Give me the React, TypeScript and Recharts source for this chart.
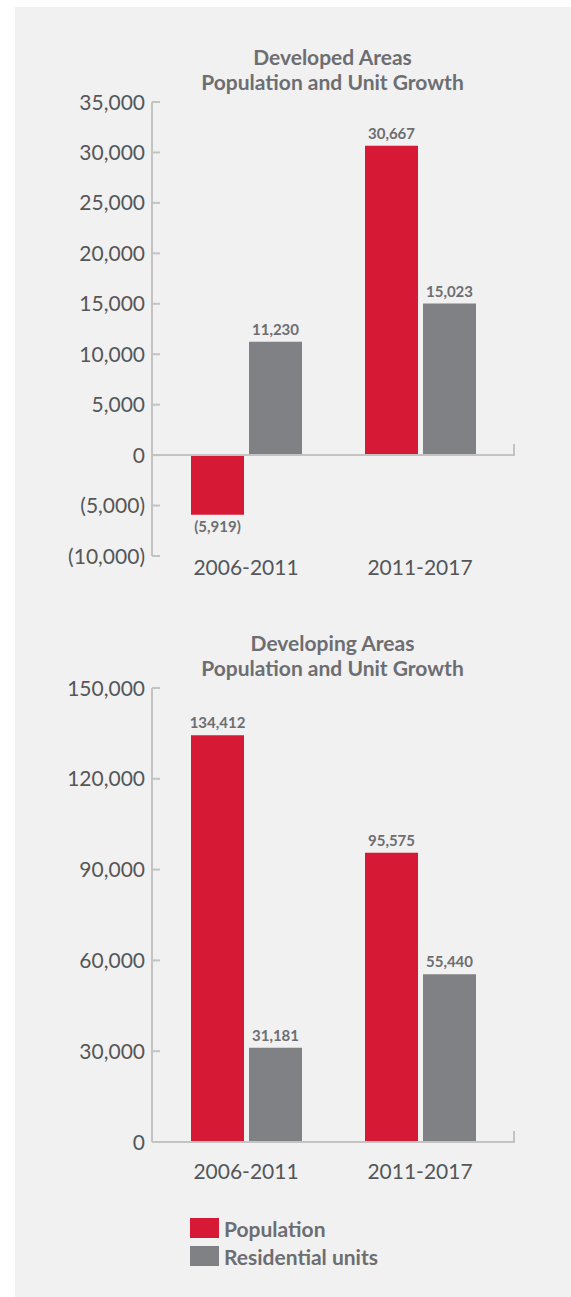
import React from "react";
import {
  BarChart,
  Bar,
  XAxis,
  YAxis,
  LabelList,
  Legend,
  ReferenceLine,
} from "recharts";

const periods = ["2006-2011", "2011-2017"];

const developedPopulation = [-5919, 30667];
const developedUnits = [11230, 15023];
const developedTicks = [-10000, -5000, 0, 5000, 10000, 15000, 20000, 25000, 30000, 35000];

const developingPopulation = [134412, 95575];
const developingUnits = [31181, 55440];
const developingTicks = [0, 30000, 60000, 90000, 120000, 150000];

const RED = "#d61a35";
const GRAY = "#808184";
const AXIS = "#c3c3c3";
const LABEL = "#6d6e71";
const TICK_TEXT = "#555658";
const FONT = "Lato, 'Open Sans', sans-serif";

function fmt(v: number) {
  const s = Math.abs(v).toLocaleString("en-US");
  return v < 0 ? `(${s})` : s;
}

function YTick(props: any) {
  const { x, y, payload } = props;
  return (
    <g>
      <line x1={x} y1={y} x2={x + 8} y2={y} stroke={AXIS} strokeWidth={2} />
      <text
        x={x - 7}
        y={y}
        dy="0.36em"
        textAnchor="end"
        fill={TICK_TEXT}
        fontSize={21}
        fontWeight={400}
        fontFamily={FONT}
      >
        {fmt(payload.value)}
      </text>
    </g>
  );
}

// zero line with the little upturned tick at the right end
function ZeroLine(props: any) {
  const left = Math.min(props.x1, props.x2);
  const right = Math.max(props.x1, props.x2);
  const y = props.y1;
  return (
    <path
      d={`M${left},${y}H${right}V${y - 11}`}
      fill="none"
      stroke={AXIS}
      strokeWidth={2}
    />
  );
}

function LegendList(props: any) {
  const items = props.payload || [];
  return (
    <div style={{ fontFamily: FONT }}>
      {items.map((item: any) => (
        <div
          key={item.value}
          style={{ display: "flex", alignItems: "center", height: 20, marginBottom: 8 }}
        >
          <span
            style={{ width: 29, height: 20, background: item.color, marginRight: 5 }}
          />
          <span style={{ fontSize: 21, fontWeight: 700, color: LABEL }}>
            {item.value}
          </span>
        </div>
      ))}
    </div>
  );
}

function Title({ top, lines }: { top: number; lines: string[] }) {
  return (
    <div
      style={{
        position: "absolute",
        left: 100,
        width: 465,
        top,
        textAlign: "center",
        fontFamily: FONT,
        fontWeight: 700,
        fontSize: 21,
        lineHeight: "25px",
        color: LABEL,
      }}
    >
      {lines.map((l) => (
        <div key={l}>{l}</div>
      ))}
    </div>
  );
}

function GrowthChart({
  population,
  units,
  ticks,
  tickMargin,
  height,
  showLegend,
}: {
  population: number[];
  units: number[];
  ticks: number[];
  tickMargin: number;
  height: number;
  showLegend?: boolean;
}) {
  const data = periods.map((p, i) => ({
    period: p,
    population: population[i],
    units: units[i],
  }));
  const labelStyle = {
    fill: LABEL,
    fontSize: 15,
    fontWeight: 700,
    fontFamily: FONT,
  };

  return (
    <BarChart
      width={571}
      height={height}
      data={data}
      margin={{ top: 102, right: 57, left: 92, bottom: height - 556 - 30 }}
      barSize={53}
      barGap={5}
    >
      <XAxis
        dataKey="period"
        axisLine={false}
        tickLine={false}
        tickSize={0}
        tickMargin={tickMargin}
        padding={{ left: 7, right: 7 }}
        interval={0}
        tick={{ fill: TICK_TEXT, fontSize: 21, fontWeight: 400, fontFamily: FONT }}
      />
      <YAxis
        width={60}
        domain={[ticks[0], ticks[ticks.length - 1]]}
        ticks={ticks}
        interval={0}
        tickSize={0}
        tickMargin={0}
        tickLine={false}
        axisLine={{ stroke: AXIS, strokeWidth: 2 }}
        tick={<YTick />}
      />
      <ReferenceLine y={0} shape={<ZeroLine />} />
      <Bar dataKey="population" name="Population" fill={RED} isAnimationActive={false}>
        <LabelList dataKey="population" position="top" offset={7} formatter={fmt} {...labelStyle} />
      </Bar>
      <Bar dataKey="units" name="Residential units" fill={GRAY} isAnimationActive={false}>
        <LabelList dataKey="units" position="top" offset={7} formatter={fmt} {...labelStyle} />
      </Bar>
      {showLegend && (
        <Legend
          layout="vertical"
          align="center"
          verticalAlign="middle"
          content={<LegendList />}
          wrapperStyle={{ left: 190, top: 632, width: 250, height: 60 }}
        />
      )}
    </BarChart>
  );
}

export default function App() {
  return (
    <div
      style={{
        position: "absolute",
        left: 0,
        top: 0,
        width: 571,
        height: 1297,
        background: "#ffffff",
        overflow: "hidden",
      }}
    >
      <div
        style={{
          position: "absolute",
          left: 15,
          top: 7,
          width: 556,
          height: 1290,
          background: "#f1f1f1",
        }}
      />
      <Title top={44} lines={["Developed Areas", "Population and Unit Growth"]} />
      <div style={{ position: "absolute", left: 0, top: 0 }}>
        <GrowthChart
          population={developedPopulation}
          units={developedUnits}
          ticks={developedTicks}
          tickMargin={4}
          height={600}
        />
      </div>
      <Title top={630} lines={["Developing Areas", "Population and Unit Growth"]} />
      <div style={{ position: "absolute", left: 0, top: 586 }}>
        <GrowthChart
          population={developingPopulation}
          units={developingUnits}
          ticks={developingTicks}
          tickMargin={22}
          height={711}
          showLegend
        />
      </div>
    </div>
  );
}
